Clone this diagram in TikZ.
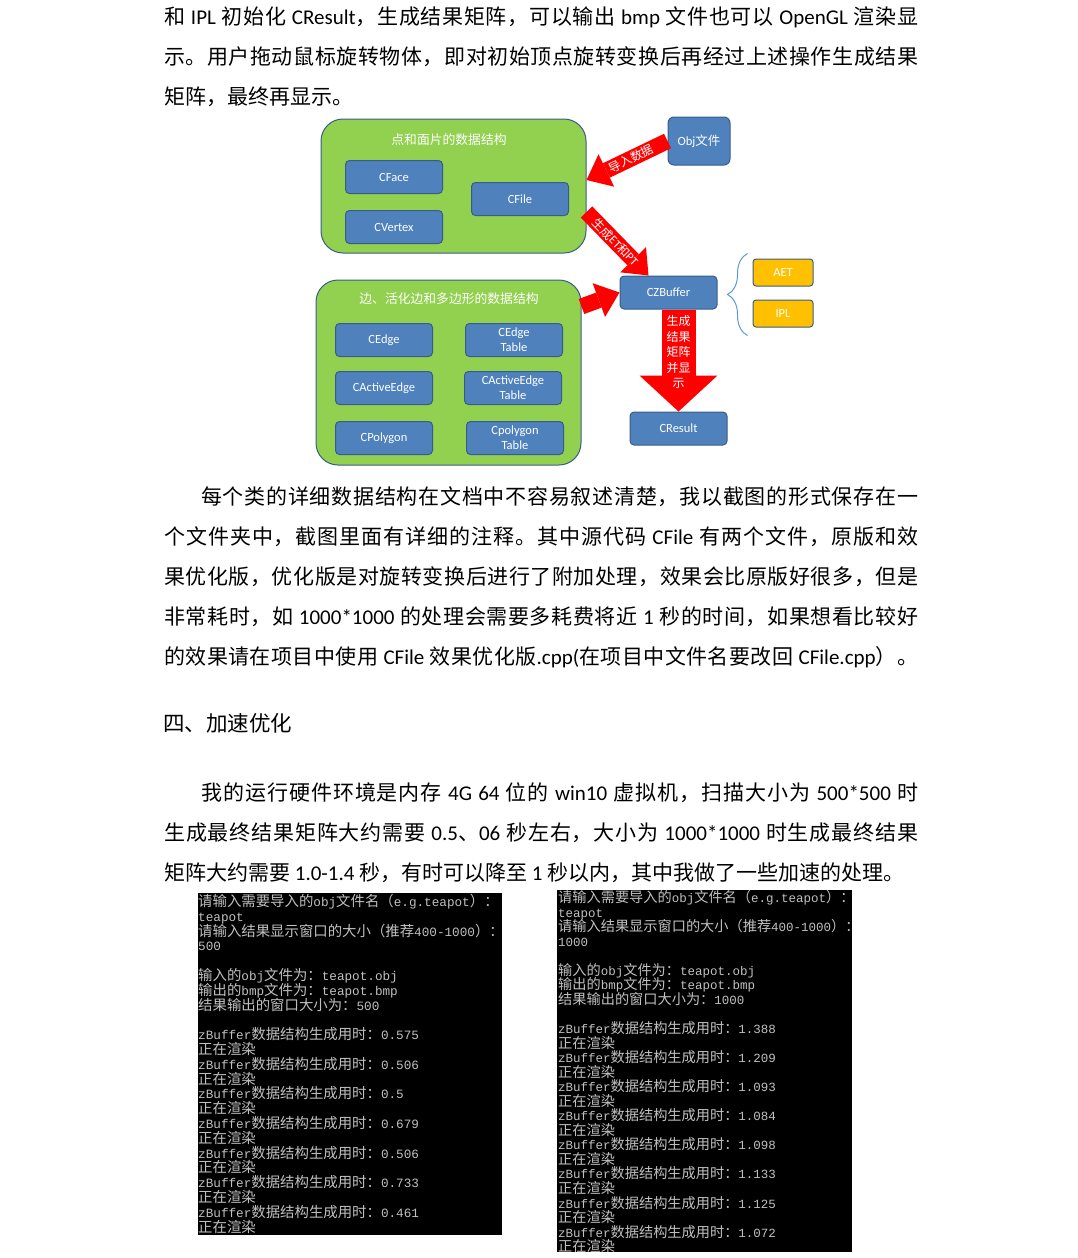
\documentclass[tikz,border=0pt]{standalone}
\usepackage{fontspec}
\setmainfont{Noto Sans CJK SC}
\newfontfamily\latinfont{Carlito}
\newfontfamily\conlatin[Scale=0.88]{Liberation Mono}
\usetikzlibrary{arrows.meta,calc,decorations.pathreplacing}

\definecolor{grn}{HTML}{92D050}
\definecolor{blu}{HTML}{4F81BD}
\definecolor{bluline}{HTML}{385D8A}
\definecolor{org}{HTML}{FFC000}
\definecolor{contxt}{HTML}{C0C0C0}
\definecolor{brc}{HTML}{5B9BD5}

% Chinese in Noto, Latin in Carlito
\newXeTeXintercharclass\cjkcls
\newcount\cjkc
\newcommand\setcjk[2]{\cjkc=#1 \loop\XeTeXcharclass\cjkc=\cjkcls\advance\cjkc by 1 \ifnum\cjkc<#2 \repeat}
\setcjk{"3000}{"3040}
\setcjk{"4E00}{"A000}
\setcjk{"FF00}{"FFF0}
\newcommand\mylatin{\latinfont}
\newcommand\mycjk{\rmfamily}
\XeTeXinterchartoks 0 \cjkcls = {\mycjk}
\XeTeXinterchartoks 4095 \cjkcls = {\mycjk}
\XeTeXinterchartoks \cjkcls 0 = {\mylatin}
\XeTeXinterchartoks 4095 0 = {\mylatin}
\XeTeXinterchartoks \cjkcls \cjkcls = {\hskip 0pt plus 1.5pt minus .5pt\relax}

\begin{document}
\XeTeXinterchartokenstate=1
\begin{tikzpicture}[x=1pt, y=-1pt,
    body/.style={anchor=base west, inner sep=0pt, font=\fontsize{21}{25}\selectfont},
    grnbox/.style={draw=bluline, line width=1pt, fill=grn, rounded corners=22pt, minimum width=265pt, inner sep=0pt},
    ttl/.style={text=white, inner sep=0pt, font=\fontsize{12.8}{14}\selectfont},
    clsbox/.style={draw=bluline, line width=1pt, fill=blu, rounded corners=4pt, minimum width=97pt, minimum height=33pt, inner sep=0pt, text=white, align=center, font=\fontsize{12.5}{15}\selectfont\latinfont},
    orgbox/.style={clsbox, fill=org, minimum width=60pt, minimum height=27pt, rounded corners=3pt},
    redarr/.style={draw=red, line width=16pt, -{Triangle[length=22pt,width=36pt,line width=0pt]}},
    arrtxt/.style={text=white, inner sep=0pt, font=\fontsize{12}{15.5}\selectfont},
    conline/.style={anchor=base west, inner sep=0pt, text=contxt, font=\fontsize{14.4}{15}\selectfont\conlatin\let\mylatin\conlatin}]
\useasboundingbox (0,0) rectangle (1078,1258);

% text above
\node[body] (p1a) at (164,24) {\makebox[754pt][s]{和 IPL 初始化 CResult，生成结果矩阵，可以输出 bmp 文件也可以 OpenGL 渲染显}};
\node[body] (p1b) at (164,64) {\makebox[754pt][s]{示。用户拖动鼠标旋转物体，即对初始顶点旋转变换后再经过上述操作生成结果}};
\node[body] (p1c) at (164,104) {矩阵，最终再显示。};

% diagram
\node[grnbox, minimum height=134pt] (grn1) at (453.5,186) {};
\node[ttl] (t1) at (449,140) {点和面片的数据结构};
\node[clsbox] (cface) at (394,177) {CFace};
\node[clsbox] (cvert) at (394,227) {CVertex};
\node[clsbox] (cfile) at (520,199) {CFile};

\node[grnbox, minimum height=185pt] (grn2) at (448.5,372.5) {};
\node[ttl] (t2) at (449,299) {边、活化边和多边形的数据结构};
\node[clsbox] (cedge) at (384,340) {CEdge};
\node[clsbox] (cet) at (514,340) {CEdge\\Table};
\node[clsbox] (caedge) at (384,388) {CActiveEdge};
\node[clsbox] (caet) at (513,388) {CActiveEdge\\Table};
\node[clsbox] (cpoly) at (384,438) {CPolygon};
\node[clsbox] (cpt) at (515,438) {Cpolygon\\Table};

\node[clsbox, minimum width=62pt, minimum height=48pt, rounded corners=6pt] (obj) at (699,141) {Obj文件};
\node[clsbox] (czb) at (668.5,292.5) {CZBuffer};
\node[clsbox] (cres) at (678.5,428.5) {CResult};
\node[orgbox] (aet) at (783,272.5) {AET};
\node[orgbox] (ipl) at (783,313.5) {IPL};

\draw[redarr] (obj.west) -- ($(grn1.east)+(0,-6)$) node[arrtxt, sloped, pos=.45] {导入数据};
\draw[redarr] ($(grn1.east)+(0,26)$) -- ($(czb.north)+(-20,0)$) node[arrtxt, sloped, pos=.47] {生成ET和PT};
\draw[redarr] ($(grn2.east)+(0,-66)$) -- (czb.west);
\draw[redarr, line width=34pt, -{Triangle[length=36pt,width=78pt,line width=0pt]}] (cres.north |- czb.south) -- (cres.north)
    node[arrtxt, align=center, pos=.42] {生成\\结果\\矩阵\\并显\\示};
\draw[brc, line width=1pt, decorate, decoration={brace, amplitude=20pt}] ($(ipl.south west)+(-5,8)$) -- ($(aet.north west)+(-5,-5)$);

% text below
\node[body] (p2a) at (201,504) {\makebox[717pt][s]{每个类的详细数据结构在文档中不容易叙述清楚，我以截图的形式保存在一}};
\node[body] (p2b) at (164,544) {\makebox[754pt][s]{个文件夹中，截图里面有详细的注释。其中源代码 CFile 有两个文件，原版和效}};
\node[body] (p2c) at (164,584) {\makebox[754pt][s]{果优化版，优化版是对旋转变换后进行了附加处理，效果会比原版好很多，但是}};
\node[body] (p2d) at (164,624) {\makebox[754pt][s]{非常耗时，如 1000*1000 的处理会需要多耗费将近 1 秒的时间，如果想看比较好}};
\node[body] (p2e) at (164,664) {\makebox[754pt][s]{的效果请在项目中使用 CFile 效果优化版.cpp(在项目中文件名要改回 CFile.cpp）。}};
\node[body, font=\fontsize{21.5}{25}\selectfont] (h4) at (163,731) {四、加速优化};
\node[body] (p3a) at (201,800) {\makebox[717pt][s]{我的运行硬件环境是内存 4G 64 位的 win10 虚拟机，扫描大小为 500*500 时}};
\node[body] (p3b) at (164,840) {\makebox[754pt][s]{生成最终结果矩阵大约需要 0.5、06 秒左右，大小为 1000*1000 时生成最终结果}};
\node[body] (p3c) at (164,880) {矩阵大约需要 1.0-1.4 秒，有时可以降至 1 秒以内，其中我做了一些加速的处理。};

% console 500
\fill[black] (198,893) rectangle (502,1235);
\node[conline] (la1) at (198,906.5) {请输入需要导入的obj文件名（e.g.teapot）：};
\node[conline] (la2) at (198,921.3) {teapot};
\node[conline] (la3) at (198,936.1) {请输入结果显示窗口的大小（推荐400-1000）：};
\node[conline] (la4) at (198,950.9) {500};
\node[conline] (la5) at (198,980.5) {输入的obj文件为：teapot.obj};
\node[conline] (la6) at (198,995.3) {输出的bmp文件为：teapot.bmp};
\node[conline] (la7) at (198,1010.1) {结果输出的窗口大小为：500};
\foreach \t [count=\i from 0] in {0.575,0.506,0.5,0.679,0.506,0.733,0.461}
{
    \node[conline] (lz\i) at (198,{1039.7+29.6*\i}) {zBuffer数据结构生成用时：\t};
    \node[conline] (lr\i) at (198,{1054.5+29.6*\i}) {正在渲染};
}

% console 1000
\fill[black] (557,890) rectangle (852,1252);
\begin{scope}
\clip (557,890) rectangle (852,1252);
\tikzset{conline/.append style={font=\fontsize{14.2}{15}\selectfont\conlatin\let\mylatin\conlatin}}
\node[conline] (ra1) at (558,902.4) {请输入需要导入的obj文件名（e.g.teapot）：};
\node[conline] (ra2) at (558,917) {teapot};
\node[conline] (ra3) at (558,931.5) {请输入结果显示窗口的大小（推荐400-1000）：};
\node[conline] (ra4) at (558,946.1) {1000};
\node[conline] (ra5) at (558,975.2) {输入的obj文件为：teapot.obj};
\node[conline] (ra6) at (558,989.8) {输出的bmp文件为：teapot.bmp};
\node[conline] (ra7) at (558,1004.3) {结果输出的窗口大小为：1000};
\foreach \t [count=\i from 0] in {1.388,1.209,1.093,1.084,1.098,1.133,1.125,1.072}
{
    \node[conline] (rz\i) at (558,{1033.4+29.1*\i}) {zBuffer数据结构生成用时：\t};
    \node[conline] (rr\i) at (558,{1048+29.1*\i}) {正在渲染};
}
\end{scope}
\end{tikzpicture}
\end{document}
